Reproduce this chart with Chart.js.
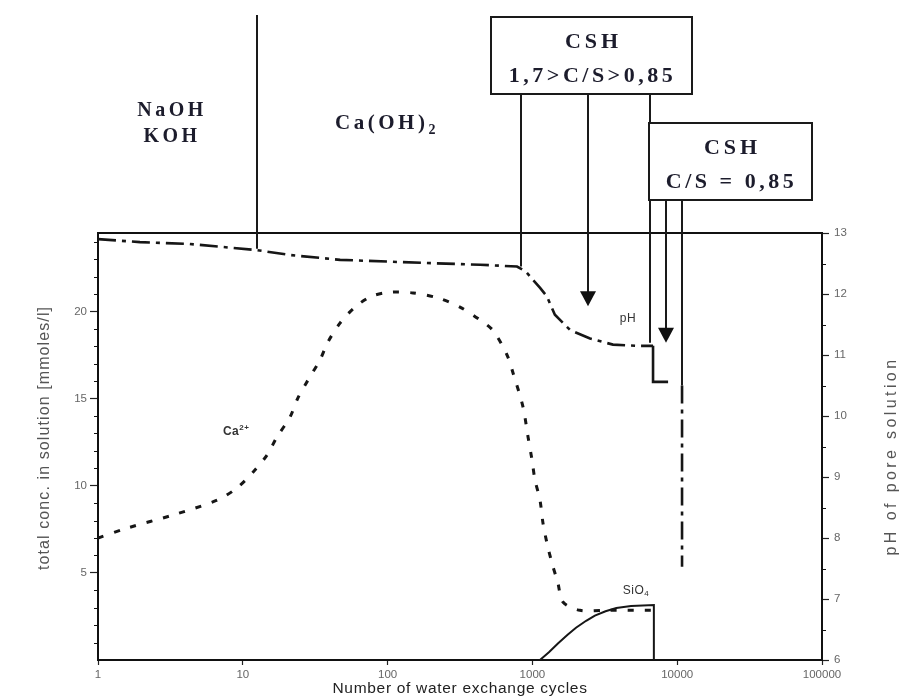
<!DOCTYPE html>
<html>
<head>
<meta charset="utf-8">
<title>Leaching - pore solution</title>
<script src="https://cdn.jsdelivr.net/npm/chart.js@4.4.1/dist/chart.umd.min.js"></script>
<style>
  html, body { margin: 0; padding: 0; background: #fff; }
  #wrap { width: 906px; height: 700px; }
</style>
</head>
<body>
<div id="wrap"><canvas id="chart" width="906" height="700"></canvas></div>
<script>
// Values
const xTicks = [1, 10, 100, 1000, 10000, 100000];
const concTicks = [5, 10, 15, 20];
const phTicks = [6, 7, 8, 9, 10, 11, 12, 13];

// pH of pore solution (right axis)
const phCycles = [1, 1.95, 4.3, 12.5, 21, 47, 175, 435, 783, 900, 1010, 1130, 1260, 1430, 1820, 2500, 3600, 5280, 6810, 6810, 8650, 9600, 10800, 10800];
const phValues = [12.9, 12.85, 12.82, 12.72, 12.64, 12.56, 12.51, 12.48, 12.45, 12.37, 12.23, 12.1, 11.96, 11.66, 11.41, 11.27, 11.17, 11.15, 11.15, 10.56, 10.56, null, 10.5, 7.53];

// Ca2+ concentration (left axis)
const caCycles = [1, 1.59, 3.3, 6.7, 9.1, 11.8, 14.7, 17.2, 21.2, 24, 28.2, 34.1, 38.7, 46.9, 59.6, 78, 107, 150, 223, 316, 435, 535, 668, 735, 861, 933, 994, 1042, 1128, 1183, 1260, 1365, 1500, 1625, 2130, 3275, 6810];
const caValues = [7.0, 7.57, 8.32, 9.18, 9.87, 10.79, 11.76, 12.79, 13.94, 15.03, 16.06, 17.21, 18.24, 19.33, 20.25, 20.88, 21.11, 21.06, 20.77, 20.25, 19.51, 18.9, 17.5, 16.47, 14.52, 12.8, 11.47, 10.33, 9.18, 7.86, 6.71, 5.56, 4.42, 3.33, 2.85, 2.85, 2.85];

// SiO4 concentration (left axis)
const sioCycles = [1128, 1300, 1500, 1750, 2000, 2350, 2700, 3200, 3800, 4800, 6900, 6900];
const sioValues = [0, 0.45, 0.95, 1.45, 1.85, 2.25, 2.55, 2.8, 2.98, 3.1, 3.16, 0];

// Phase annotations above the plot
const phaseTexts = [
    { parts: [{ t: 'NaOH' }], x: 172, y: 111, size: 20 },
    { parts: [{ t: 'KOH' }], x: 172, y: 137, size: 20 },
    { parts: [{ t: 'Ca(OH)' }, { t: '2', sub: true }], x: 387, y: 124, size: 21 }
];
const boxes = [
    { id: 'box1', left: 491, top: 17, width: 201, height: 77, lines: ['CSH', '1,7>C/S>0,85'] },
    { id: 'box2', left: 649, top: 123, width: 163, height: 77, lines: ['CSH', 'C/S = 0,85'] }
];
const markerLines = [
    { cycles: 12.5, from: 15, endPH: 12.74 },
    { cycles: 834, from: 'box1', endPH: 12.45 },
    { cycles: 2420, from: 'box1', endPH: 11.8, arrow: true },
    { cycles: 6490, from: 'box1', endPH: 11.2 },
    { cycles: 8370, from: 'box2', endPH: 11.2, arrow: true },
    { cycles: 10800, from: 'box2', endPH: 10.5 }
];
const curveLabels = [
    { parts: [{ t: 'pH' }], cycles: 4570, value: 11.59, axis: 'yPH', weight: 'normal' },
    { parts: [{ t: 'Ca' }, { t: '2+', sup: true }], cycles: 9, value: 13.1, axis: 'yConc', weight: 'bold' },
    { parts: [{ t: 'SiO' }, { t: '4', sub: true }], cycles: 5190, value: 4.0, axis: 'yConc', weight: 'normal' }
];
const axisTitles = {
    x: 'Number of water exchange cycles',
    conc: 'total conc. in solution [mmoles/l]',
    ph: 'pH of pore solution'
};

function toPoints(xs, ys) {
    return xs.map((x, i) => ({ x: x, y: ys[i] }));
}

// draws text made of normal / sub / sup parts, centred on x
function drawParts(ctx, parts, x, y, size, family, weight, spacing) {
    const fontFor = p => weight + ' ' + (p.sub || p.sup ? Math.round(size * 0.65) : size) + 'px ' + family;
    ctx.letterSpacing = spacing + 'px';
    let total = 0;
    parts.forEach(p => { ctx.font = fontFor(p); total += ctx.measureText(p.t).width; });
    let cx = x - total / 2;
    ctx.textAlign = 'left';
    ctx.textBaseline = 'middle';
    parts.forEach(p => {
        ctx.font = fontFor(p);
        let dy = 0;
        if (p.sub) dy = size * 0.3;
        if (p.sup) dy = -size * 0.3;
        ctx.fillText(p.t, cx, y + dy);
        cx += ctx.measureText(p.t).width;
    });
    ctx.letterSpacing = '0px';
}

const SANS = '"Liberation Sans", Arial, sans-serif';
const SERIF = '"Liberation Serif", "Times New Roman", serif';

const annotationPlugin = {
    id: 'annotations',
    afterDraw(chart) {
        const { ctx, chartArea: area, scales } = chart;
        const xs = scales.x, yc = scales.yConc, yp = scales.yPH;
        ctx.save();

        // top of the frame
        ctx.strokeStyle = '#111';
        ctx.lineWidth = 2;
        ctx.beginPath();
        ctx.moveTo(area.left - 1, area.top);
        ctx.lineTo(area.right + 1, area.top);
        ctx.stroke();

        // minor ticks
        ctx.lineWidth = 1.2;
        ctx.beginPath();
        for (let v = 1; v < 25; v++) {
            if (v % 5 === 0) continue;
            const py = Math.round(yc.getPixelForValue(v)) + 0.5;
            ctx.moveTo(area.left - 4, py);
            ctx.lineTo(area.left + 1, py);
        }
        for (let v = 6.5; v < 13; v += 1) {
            const py = Math.round(yp.getPixelForValue(v)) + 0.5;
            ctx.moveTo(area.right - 1, py);
            ctx.lineTo(area.right + 4, py);
        }
        ctx.stroke();

        // axis titles
        ctx.fillStyle = '#222';
        drawParts(ctx, [{ t: axisTitles.x }], (area.left + area.right) / 2, 689, 15.5, SANS, 'normal', 0.7);
        ctx.fillStyle = '#555';
        ctx.save();
        ctx.translate(45, 438);
        ctx.rotate(-Math.PI / 2);
        drawParts(ctx, [{ t: axisTitles.conc }], 0, 0, 16, SANS, 'normal', 1.1);
        ctx.restore();
        ctx.save();
        ctx.translate(892, 456);
        ctx.rotate(-Math.PI / 2);
        drawParts(ctx, [{ t: axisTitles.ph }], 0, 0, 16, SANS, 'normal', 3.4);
        ctx.restore();

        // vertical marker lines and arrows
        const boxById = {};
        boxes.forEach(b => { boxById[b.id] = b; });
        ctx.strokeStyle = '#1a1a1a';
        ctx.fillStyle = '#111';
        ctx.lineWidth = 2;
        markerLines.forEach(m => {
            const px = Math.round(xs.getPixelForValue(m.cycles));
            const top = typeof m.from === 'number' ? m.from : boxById[m.from].top + boxById[m.from].height;
            const end = yp.getPixelForValue(m.endPH);
            const lineEnd = m.arrow ? end - 14 : end;
            ctx.beginPath();
            ctx.moveTo(px, top);
            ctx.lineTo(px, lineEnd);
            ctx.stroke();
            if (m.arrow) {
                ctx.beginPath();
                ctx.moveTo(px - 8, end - 15);
                ctx.lineTo(px + 8, end - 15);
                ctx.lineTo(px, end);
                ctx.closePath();
                ctx.fill();
            }
        });

        // boxes with phase names
        boxes.forEach(b => {
            ctx.fillStyle = '#fff';
            ctx.fillRect(b.left, b.top, b.width, b.height);
            ctx.strokeStyle = '#1a1a1a';
            ctx.lineWidth = 2;
            ctx.strokeRect(b.left, b.top, b.width, b.height);
            ctx.fillStyle = '#1c1c2c';
            const cx = b.left + b.width / 2;
            drawParts(ctx, [{ t: b.lines[0] }], cx + 2, b.top + 25, 22, SERIF, 'bold', 4);
            drawParts(ctx, [{ t: b.lines[1] }], cx + 1, b.top + 59, 22, SERIF, 'bold', 3.5);
        });

        ctx.fillStyle = '#1c1c2c';
        phaseTexts.forEach(t => {
            drawParts(ctx, t.parts, t.x, t.y, t.size, SERIF, 'bold', 3.5);
        });

        // curve labels
        ctx.fillStyle = '#333';
        curveLabels.forEach(l => {
            const px = xs.getPixelForValue(l.cycles);
            const py = scales[l.axis].getPixelForValue(l.value);
            drawParts(ctx, l.parts, px, py, 12, SANS, l.weight, 0.5);
        });

        ctx.restore();
    }
};

const axisFont = { family: SANS, size: 11.5 };

new Chart(document.getElementById('chart'), {
    type: 'line',
    data: {
        datasets: [
            {
                label: 'pH',
                data: toPoints(phCycles, phValues),
                yAxisID: 'yPH',
                borderColor: '#161616',
                borderWidth: 2.6,
                borderDash: [18, 6, 4, 6],
                pointRadius: 0,
                tension: 0,
                fill: false,
                segment: {
                    borderDash: c => (c.p0.parsed.x >= 6800 && c.p1.parsed.x <= 8700) ? [] : undefined
                }
            },
            {
                label: 'Ca2+',
                data: toPoints(caCycles, caValues),
                yAxisID: 'yConc',
                borderColor: '#161616',
                borderWidth: 3,
                borderDash: [6, 11],
                pointRadius: 0,
                tension: 0.3,
                fill: false
            },
            {
                label: 'SiO4',
                data: toPoints(sioCycles, sioValues),
                yAxisID: 'yConc',
                borderColor: '#161616',
                borderWidth: 2,
                pointRadius: 0,
                tension: 0,
                fill: false
            }
        ]
    },
    options: {
        responsive: false,
        animation: false,
        devicePixelRatio: 1,
        layout: { padding: { top: 233, left: 0, right: 0, bottom: 0 } },
        plugins: {
            legend: { display: false },
            tooltip: { enabled: false }
        },
        scales: {
            x: {
                type: 'logarithmic',
                position: 'bottom',
                min: 1,
                max: 100000,
                afterBuildTicks: axis => { axis.ticks = xTicks.map(v => ({ value: v })); },
                afterFit: axis => { axis.height = 40; },
                grid: { drawOnChartArea: false, tickLength: 5, color: '#222', tickWidth: 1.2 },
                border: { color: '#111', width: 2 },
                ticks: {
                    color: '#666',
                    font: axisFont,
                    padding: 3,
                    maxRotation: 0,
                    autoSkip: false,
                    callback: v => String(v)
                }
            },
            yConc: {
                type: 'linear',
                position: 'left',
                min: 0,
                max: 24.5,
                afterBuildTicks: axis => { axis.ticks = concTicks.map(v => ({ value: v })); },
                afterFit: axis => { axis.width = 98; },
                grid: { drawOnChartArea: false, tickLength: 8, color: '#222', tickWidth: 1.2 },
                border: { color: '#111', width: 2 },
                ticks: { color: '#666', font: axisFont, padding: 3 }
            },
            yPH: {
                type: 'linear',
                position: 'right',
                min: 6,
                max: 13,
                afterBuildTicks: axis => { axis.ticks = phTicks.map(v => ({ value: v })); },
                afterFit: axis => { axis.width = 84; },
                grid: { drawOnChartArea: false, tickLength: 7, color: '#222', tickWidth: 1.2 },
                border: { color: '#111', width: 2 },
                ticks: { color: '#666', font: axisFont, padding: 5 }
            }
        }
    },
    plugins: [annotationPlugin]
});
</script>
</body>
</html>
